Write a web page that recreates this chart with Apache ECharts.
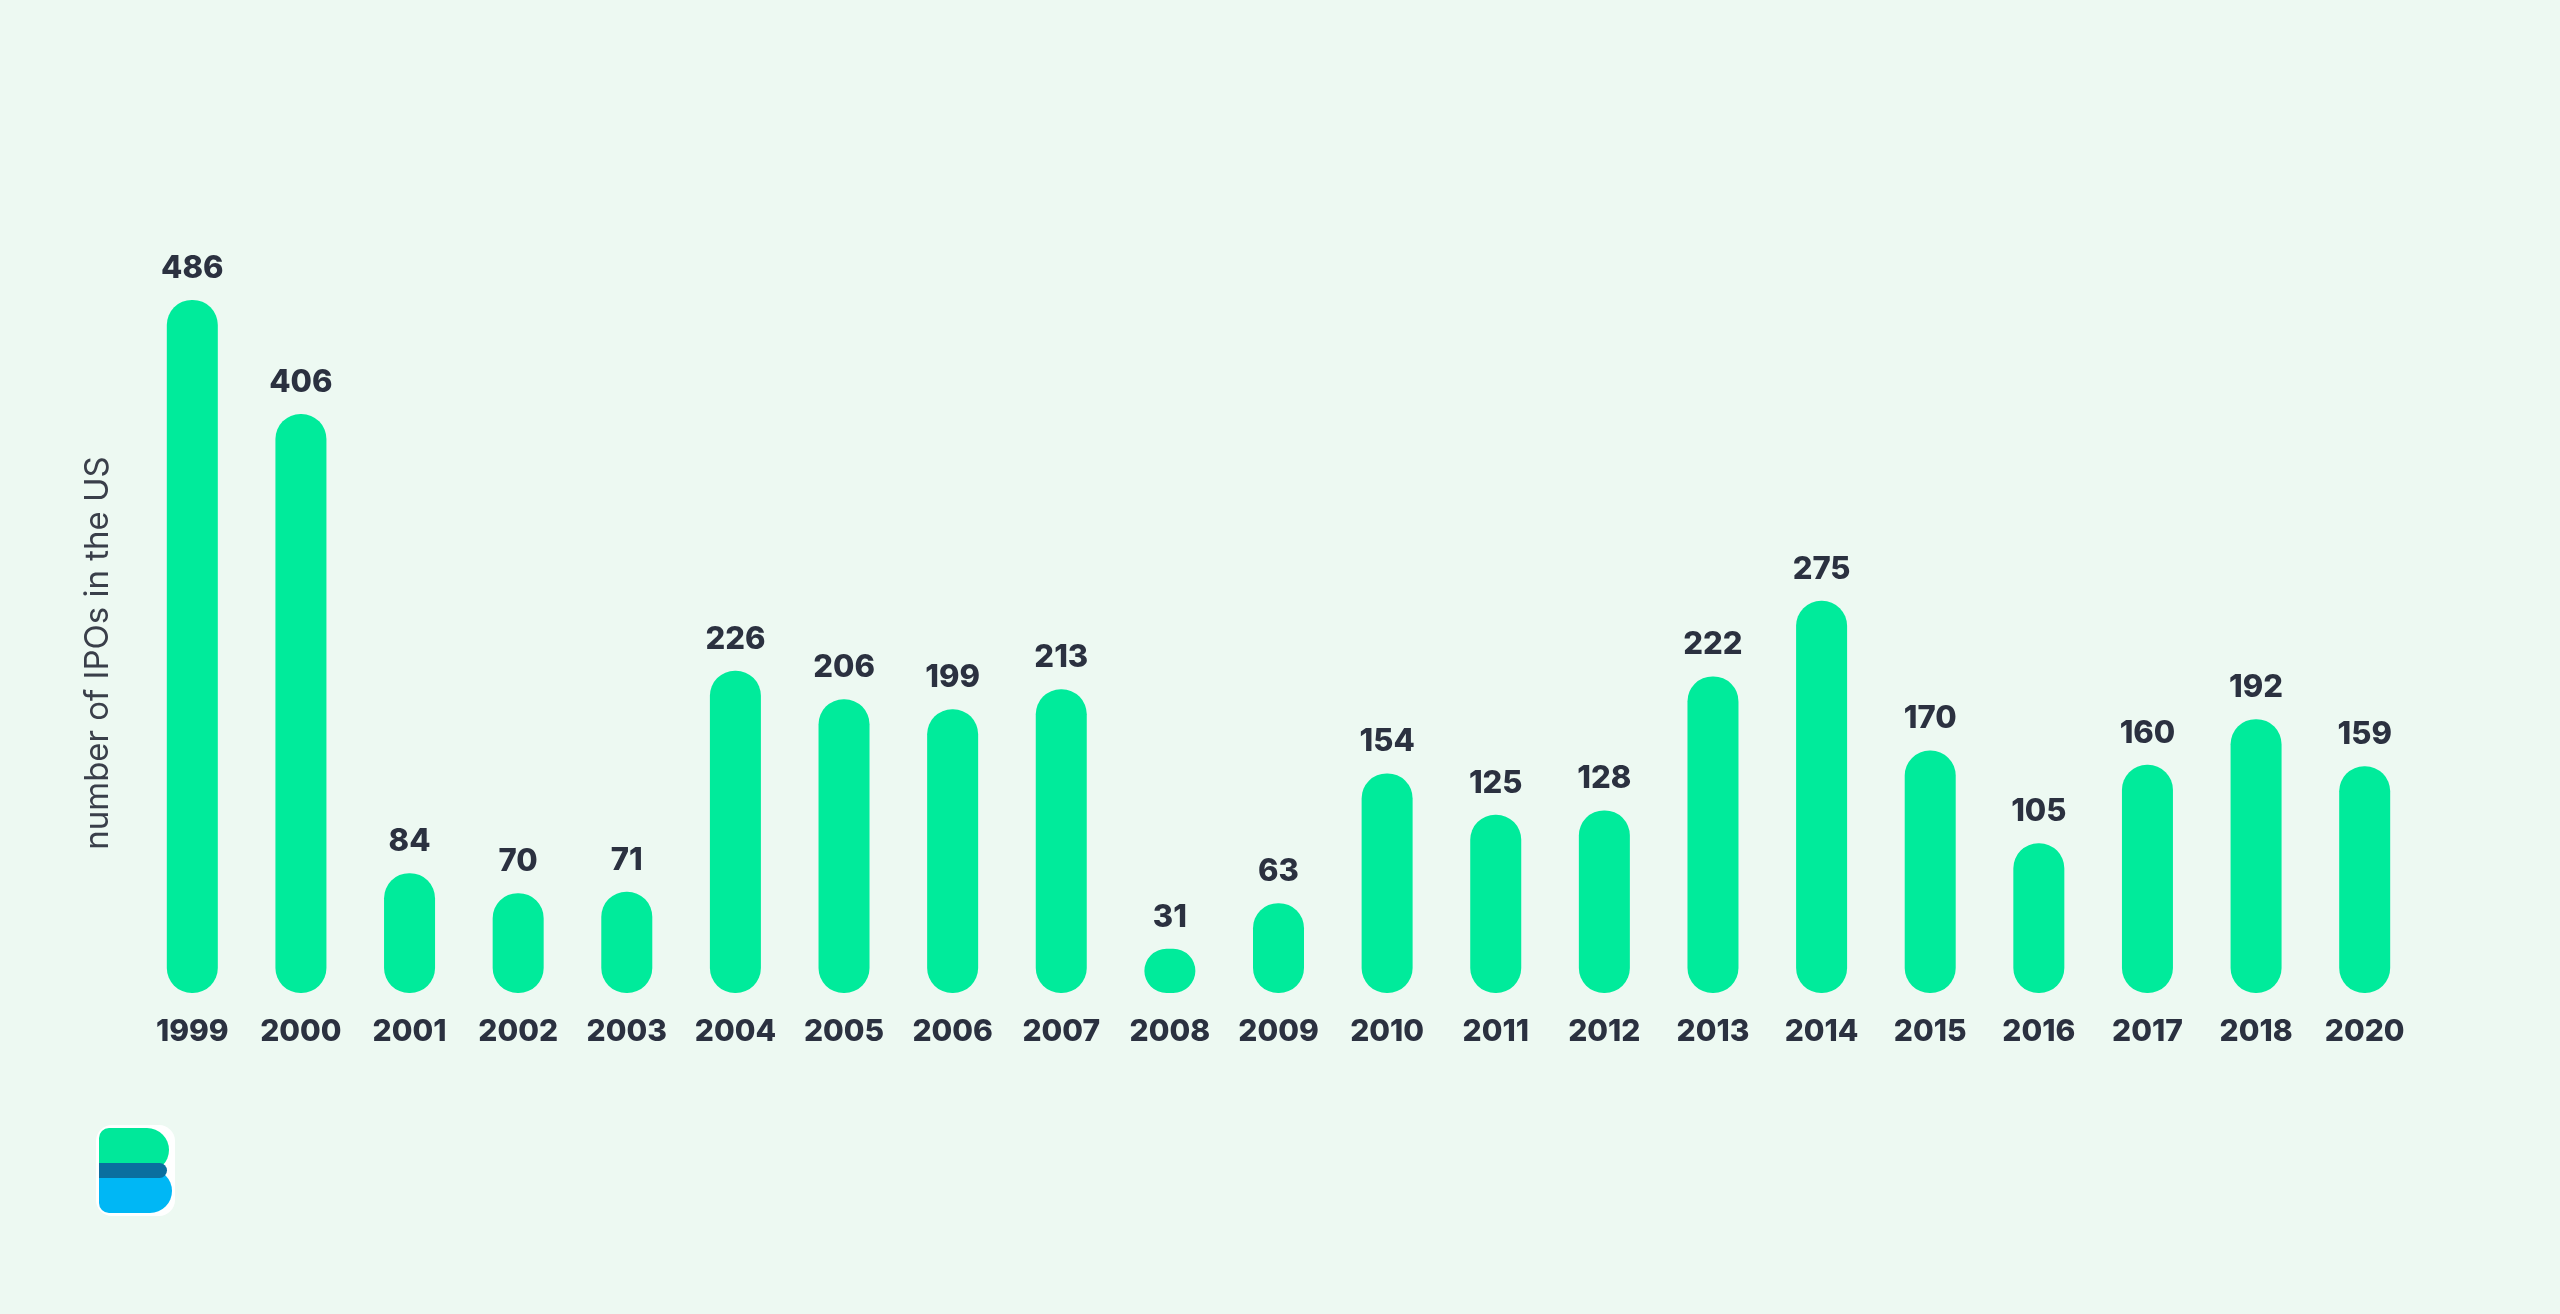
<!DOCTYPE html>
<html>
<head>
<meta charset="utf-8">
<script src="https://cdn.jsdelivr.net/npm/echarts@6/dist/echarts.min.js"></script>
<style>
html,body{margin:0;padding:0;background:#edf9f2;}
#c{width:2560px;height:1314px;}
</style>
</head>
<body>
<div id="c"></div>
<script>
const years = ['1999','2000','2001','2002','2003','2004','2005','2006','2007','2008','2009','2010','2011','2012','2013','2014','2015','2016','2017','2018','2020'];
const ipoCounts = [486,406,84,70,71,226,206,199,213,31,63,154,125,128,222,275,170,105,160,192,159];
const axisTitle = 'number of IPOs in the US';

const chart = echarts.init(document.getElementById('c'), null, {renderer:'canvas'});
const font = 'Inter, "Noto Sans", sans-serif';
chart.setOption({
  backgroundColor:'#edf9f2',
  animation:false,
  grid:{left:138, right:141, top:280, bottom:321, containLabel:false},
  xAxis:{
    type:'category', data:years,
    axisLine:{show:false}, axisTick:{show:false},
    axisLabel:{interval:0, color:'#2b3140', fontSize:30, fontWeight:800, fontFamily:font, margin:24}
  },
  yAxis:{
    type:'value', min:0, max:500,
    splitLine:{show:false}, axisLabel:{show:false}, axisLine:{show:false}, axisTick:{show:false}
  },
  series:[{
    type:'bar', data:ipoCounts, barWidth:51,
    itemStyle:{color:'#00eb9b', borderRadius:25},
    label:{show:true, position:'top', distance:16, color:'#2b3140', fontSize:31, fontWeight:800, fontFamily:font}
  }],
  graphic:[
    {type:'text', x:98, y:653, rotation:Math.PI/2,
     style:{text:axisTitle, fill:'#3a3f4a', font:'400 33px ' + font, textAlign:'center', textVerticalAlign:'middle'}},
    {type:'rect', shape:{x:96,y:1125,width:79,height:91,r:16}, style:{fill:'#ffffff'}},
    {type:'rect', shape:{x:99,y:1128,width:70,height:44,r:[10,22,22,0]}, style:{fill:'#00e89a'}},
    {type:'rect', shape:{x:99,y:1169,width:73,height:44,r:[0,22,22,10]}, style:{fill:'#00b7f5'}},
    {type:'rect', shape:{x:99,y:1163,width:68,height:15,r:[0,8,8,0]}, style:{fill:'#0a6f9f'}}
  ]
});
</script>
</body>
</html>
